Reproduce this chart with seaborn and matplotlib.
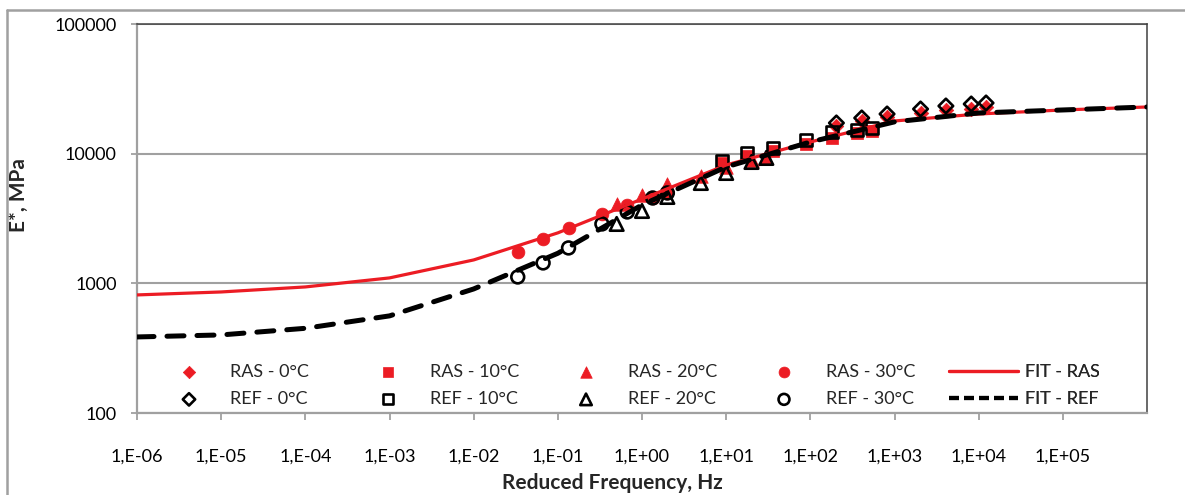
import numpy as np
import pandas as pd
import matplotlib
matplotlib.use("Agg")
import matplotlib.pyplot as plt
import seaborn as sns
from matplotlib.ticker import FixedLocator, FuncFormatter, NullLocator
from matplotlib.lines import Line2D

# ---------------- data ----------------
fr_0C = [204, 408, 816, 2040, 4080, 8160, 12240]
fr_10C = [8.95, 17.9, 35.8, 89.5, 179, 358, 537]
fr_20C = [0.5, 1, 2, 5, 10, 20, 30]
fr_30C = [0.0334, 0.0668, 0.134, 0.334, 0.668, 1.34, 2.0]

ras_0C = [16360, 17870, 19190, 20600, 21730, 22110, 22910]
ras_10C = [8480, 9600, 10490, 11880, 13210, 14440, 14960]
ras_20C = [4095, 4805, 5840, 6730, 7900, 8940, 9430]
ras_30C = [1746, 2199, 2673, 3428, 4022, 4553, 4977]

ref_0C = [17250, 18850, 20230, 22110, 23320, 24160, 24600]
ref_10C = [8785, 10120, 11070, 12750, 14700, 15230, 15790]
ref_20C = [2871, 3615, 4637, 5943, 7100, 8630, 9270]
ref_30C = [1120, 1437, 1875, 2871, 3552, 4553, 4977]

fit_freq = [1e-6, 1e-5, 1e-4, 1e-3, 1e-2, 1e-1, 1e0, 1e1, 1e2, 1e3, 1e4, 1e5, 1e6]
fit_ras = [814, 858, 938, 1101, 1515, 2450, 4470, 8180, 12310, 17870, 20230, 21730, 22910]
fit_ref = [386, 400, 450, 561, 905, 1705, 4022, 7900, 12310, 17590, 20600, 21730, 22910]

x_ticks = [1e-6, 1e-5, 1e-4, 1e-3, 1e-2, 1e-1, 1e0, 1e1, 1e2, 1e3, 1e4, 1e5]
y_ticks = [100, 1000, 10000, 100000]

# ---------------- style ----------------
sns.set_style("white")
plt.rcParams["font.family"] = ["Lato", "DejaVu Sans"]
RED = "#EC1C24"
GRID = "#A0A0A0"
FS = 13
FS_LAB = 15

W, H = 1185, 495
fig = plt.figure(figsize=(W / 100, H / 100), dpi=100)
ax = fig.add_axes([137 / W, 1 - 413 / H, 1010 / W, 389 / H])

ras_sets = [("RAS - 0°C", fr_0C, ras_0C, "D", 55),
            ("RAS - 10°C", fr_10C, ras_10C, "s", 75),
            ("RAS - 20°C", fr_20C, ras_20C, "^", 95),
            ("RAS - 30°C", fr_30C, ras_30C, "o", 85)]
ref_sets = [("REF - 0°C", fr_0C, ref_0C, "D", 55),
            ("REF - 10°C", fr_10C, ref_10C, "s", 75),
            ("REF - 20°C", fr_20C, ref_20C, "^", 95),
            ("REF - 30°C", fr_30C, ref_30C, "o", 85)]

for lab, fx, ey, mk, s in ras_sets:
    df = pd.DataFrame({"f": fx, "E": ey})
    sns.scatterplot(data=df, x="f", y="E", ax=ax, marker=mk, s=s, color=RED,
                    edgecolor=RED, linewidth=0.5, label=lab, zorder=3)
for lab, fx, ey, mk, s in ref_sets:
    df = pd.DataFrame({"f": fx, "E": ey})
    sns.scatterplot(data=df, x="f", y="E", ax=ax, marker=mk, s=s,
                    facecolor="none", edgecolor="black", linewidth=1.9,
                    label=lab, zorder=4)

df_fit = pd.DataFrame({"f": fit_freq, "ras": fit_ras, "ref": fit_ref})
sns.lineplot(data=df_fit, x="f", y="ras", ax=ax, color=RED, lw=2.3,
             label="FIT - RAS", zorder=5)
sns.lineplot(data=df_fit, x="f", y="ref", ax=ax, color="black", lw=3.6,
             label="FIT - REF", zorder=6, dashes=False)
ax.lines[-1].set_dashes([3.4, 2.6])
ax.lines[-1].set_dash_capstyle("round")

ax.set_xscale("log")
ax.set_yscale("log")
ax.set_xlim(1e-6, 1e6)
ax.set_ylim(100, 100000)

ax.xaxis.set_major_locator(FixedLocator(x_ticks))
ax.xaxis.set_minor_locator(NullLocator())
ax.yaxis.set_major_locator(FixedLocator(y_ticks))
ax.yaxis.set_minor_locator(NullLocator())

def xfmt(v, pos):
    e = int(round(np.log10(v)))
    return "1,E%+03d" % e

ax.xaxis.set_major_formatter(FuncFormatter(xfmt))
ax.yaxis.set_major_formatter(FuncFormatter(lambda v, p: "%d" % int(round(v))))

ax.tick_params(axis="x", direction="out", length=5, width=1.3, color=GRID,
               pad=21, labelsize=FS, labelcolor="black", bottom=True)
ax.tick_params(axis="y", direction="out", length=4.5, width=1.3, color=GRID,
               pad=10, labelsize=FS, labelcolor="black", left=True)

ax.grid(True, axis="y", color=GRID, lw=1.5)
ax.grid(False, axis="x")
for sp in ("left", "bottom"):
    ax.spines[sp].set_color(GRID)
    ax.spines[sp].set_linewidth(1.6)
for sp in ("top", "right"):
    ax.spines[sp].set_color("#404040")
    ax.spines[sp].set_linewidth(1.1)

ax.set_xlabel("Reduced Frequency, Hz", fontsize=FS_LAB, fontweight="bold")
ax.set_ylabel("E*, MPa", fontsize=FS_LAB, fontweight="bold")
ax.xaxis.label.set_verticalalignment("center")
ax.yaxis.label.set_verticalalignment("center")
ax.xaxis.set_label_coords((612 - 137) / 1010, (413 - 483) / 389)
ax.yaxis.set_label_coords((19 - 137) / 1010, (413 - 195) / 389)

# ---------------- legend (5 columns, uniform spacing) ----------------
handles, labels = ax.get_legend_handles_labels()
hmap = dict(zip(labels, handles))
if ax.get_legend() is not None:
    ax.get_legend().remove()
hmap["FIT - RAS"] = Line2D([], [], color=RED, lw=2.3)
hmap["FIT - REF"] = Line2D([], [], color="black", lw=3.0, dashes=[2.4, 1.2],
                           dash_capstyle="butt")

cols = [("RAS - 0°C", "REF - 0°C"), ("RAS - 10°C", "REF - 10°C"),
        ("RAS - 20°C", "REF - 20°C"), ("RAS - 30°C", "REF - 30°C"),
        ("FIT - RAS", "FIT - REF")]
col_left = [154.5, 353.5, 551.5, 749.5, 949]
fs_px = FS * 100 / 72
ycen = (413 - 385.5) / 389
for (a, b), xl in zip(cols, col_left):
    leg = ax.legend([hmap[a], hmap[b]], [a, b], loc="center left",
                    bbox_to_anchor=((xl - 137) / 1010, ycen),
                    frameon=False, fontsize=FS, borderpad=0, borderaxespad=0,
                    handlelength=69 / fs_px, handletextpad=7 / fs_px,
                    labelspacing=0.62, markerscale=0.85)
    ax.add_artist(leg)

# outer chart frame (left and top edges visible)
fig.add_artist(Line2D([7 / W, 7 / W], [0, 1 - 10 / H], transform=fig.transFigure,
                      color=GRID, lw=1.8))
fig.add_artist(Line2D([7 / W, 1], [1 - 10 / H, 1 - 10 / H], transform=fig.transFigure,
                      color=GRID, lw=1.8))

fig.savefig("out.png", dpi=100)
